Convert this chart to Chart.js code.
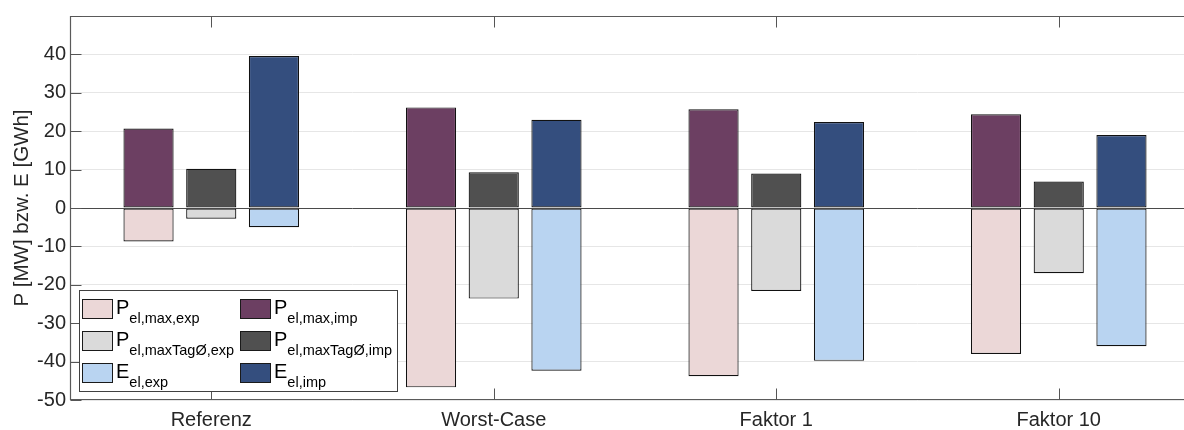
<!DOCTYPE html>
<html>
<head>
<meta charset="utf-8">
<script src="https://cdn.jsdelivr.net/npm/chart.js@4"></script>
<style>
  html, body { margin: 0; padding: 0; background: #fff; overflow: hidden; }
  #wrap { width: 1184px; height: 430px; overflow: hidden; position: relative; }
  canvas { display: block; }
</style>
</head>
<body>
<div id="wrap"><canvas id="c" width="1204" height="430"></canvas></div>
<script>
// ---- data ----
const categories = ['Referenz', 'Worst-Case', 'Faktor 1', 'Faktor 10'];
const pMaxExp = [-8.7, -46.7, -43.8, -38.0];
const pMaxImp = [20.7, 26.2, 25.7, 24.4];
const pTagExp = [-2.8, -23.6, -21.6, -17.0];
const pTagImp = [10.2, 9.3, 9.0, 6.9];
const eExp    = [-5.0, -42.4, -39.8, -36.0];
const eImp    = [39.6, 23.0, 22.4, 19.0];
const yTicks  = [-50, -40, -30, -20, -10, 0, 10, 20, 30, 40];
const yTitle  = 'P [MW] bzw. E [GWh]';
// legend: main symbol + subscript
const legMain = ['P', 'P', 'P', 'P', 'E', 'E'];
const legSub  = ['el,max,exp', 'el,max,imp', 'el,maxTag\u00D8,exp', 'el,maxTag\u00D8,imp', 'el,exp', 'el,imp'];

const colors = ['#EBD7D7', '#6C3F62', '#DADADA', '#505050', '#B9D4F1', '#344E7E'];
const FONT = '"Liberation Sans", Arial, Helvetica, sans-serif';

const series = [pMaxExp, pMaxImp, pTagExp, pTagImp, eExp, eImp];
const stacks = ['A', 'A', 'B', 'B', 'C', 'C'];
const datasets = series.map((d, i) => ({
  label: legMain[i] + ' ' + legSub[i],
  data: d,
  stack: stacks[i],
  backgroundColor: colors[i],
  borderColor: '#111111',
  borderWidth: 1.2,
  borderSkipped: false,
  categoryPercentage: 0.666,
  barPercentage: 0.80
}));

const framePlugin = {
  id: 'frame',
  afterDatasetsDraw(chart) {
    const ctx = chart.ctx, ca = chart.chartArea;
    const y = chart.scales.y, x = chart.scales.x;
    ctx.save();
    // zero line
    const y0 = Math.round(y.getPixelForValue(0)) + 0.5;
    ctx.strokeStyle = '#4a4a4a';
    ctx.lineWidth = 1;
    ctx.beginPath(); ctx.moveTo(ca.left, y0); ctx.lineTo(ca.right, y0); ctx.stroke();
    // box
    ctx.strokeStyle = '#5a5a5a';
    ctx.lineWidth = 1.2;
    const L = Math.round(ca.left) + 0.5, T = Math.round(ca.top) + 0.5, B = Math.round(ca.bottom) - 0.5, R = ca.right;
    ctx.beginPath();
    ctx.moveTo(R, T); ctx.lineTo(L, T); ctx.lineTo(L, B); ctx.lineTo(R, B);
    ctx.stroke();
    // inward ticks
    ctx.lineWidth = 1;
    ctx.strokeStyle = '#555';
    ctx.beginPath();
    for (let v = -50; v <= 50; v += 10) {
      const py = Math.round(y.getPixelForValue(v)) + 0.5;
      ctx.moveTo(L, py); ctx.lineTo(L + 11, py);
    }
    categories.forEach((c, i) => {
      const px = Math.round(x.getPixelForValue(i)) + 0.5;
      ctx.moveTo(px, T); ctx.lineTo(px, T + 11);
      ctx.moveTo(px, B); ctx.lineTo(px, B - 11);
    });
    ctx.stroke();
    ctx.restore();
  },
  afterDraw(chart) {
    const ctx = chart.ctx, ca = chart.chartArea;
    ctx.save();
    const bx = Math.round(ca.left) + 9.5, by = Math.round(ca.bottom) - 109.5;
    const bw = 318, bh = 101;
    ctx.fillStyle = '#fff';
    ctx.fillRect(bx, by, bw, bh);
    ctx.strokeStyle = '#404040';
    ctx.lineWidth = 1;
    ctx.strokeRect(bx, by, bw, bh);
    const colX = [bx + 3, bx + 161];
    const rowY = [by + 9, by + 41, by + 73];
    for (let i = 0; i < 6; i++) {
      const cx = colX[i % 2], ry = rowY[Math.floor(i / 2)];
      ctx.fillStyle = colors[i];
      ctx.fillRect(cx, ry, 30, 19);
      ctx.strokeStyle = '#1a1a1a';
      ctx.strokeRect(cx, ry, 30, 19);
      ctx.fillStyle = '#000';
      ctx.textBaseline = 'alphabetic';
      ctx.font = '20px ' + FONT;
      const mx = cx + 33.5;
      ctx.fillText(legMain[i], mx, ry + 14.5);
      const mw = ctx.measureText(legMain[i]).width;
      ctx.font = '14.5px ' + FONT;
      ctx.fillText(legSub[i], mx + mw, ry + 23);
    }
    ctx.restore();
  }
};

new Chart(document.getElementById('c'), {
  type: 'bar',
  data: { labels: categories, datasets },
  options: {
    responsive: false,
    animation: false,
    events: [],
    layout: { padding: { left: 0, right: 4, top: 12, bottom: 0 } },
    plugins: { legend: { display: false }, tooltip: { enabled: false } },
    scales: {
      x: {
        stacked: true,
        grid: { display: false, drawTicks: false },
        border: { display: false },
        ticks: { color: '#262626', font: { family: FONT, size: 20 }, padding: 8, maxRotation: 0 },
        afterFit(a) { a.height = 30; }
      },
      y: {
        stacked: true,
        min: -50, max: 50,
        ticks: {
          stepSize: 10,
          color: '#262626',
          font: { family: FONT, size: 20 },
          padding: 4,
          callback: v => (yTicks.includes(v) ? String(v) : '')
        },
        grid: { color: '#e6e6e6', drawTicks: false, lineWidth: 1 },
        border: { display: false },
        title: { display: true, text: yTitle, color: '#262626', font: { family: FONT, size: 20.5 }, padding: { top: 10, bottom: 0 } },
        afterFit(a) { a.width = 70; }
      }
    }
  },
  plugins: [framePlugin]
});
</script>
</body>
</html>
